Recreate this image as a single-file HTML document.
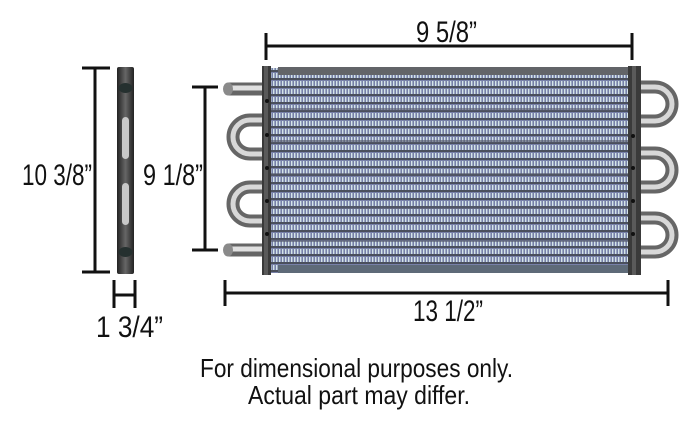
<!DOCTYPE html>
<html><head><meta charset="utf-8"><style>
html,body{margin:0;padding:0;background:#fff;}
svg{display:block}
text{font-family:"Liberation Sans",Arial,sans-serif;fill:#111}
</style></head><body>
<svg width="700" height="426" viewBox="0 0 700 426" xmlns="http://www.w3.org/2000/svg">
<defs>
<pattern id="fin" width="3" height="8" patternUnits="userSpaceOnUse">
<rect width="3" height="8" fill="#7780a8"/>
<rect x="0" y="1" width="1.4" height="5" fill="#d4e4e8"/>
<rect x="0" y="6" width="3" height="2" fill="#4a4f5c"/>
</pattern>
<linearGradient id="bar" x1="0" y1="0" x2="1" y2="0">
<stop offset="0" stop-color="#222"/><stop offset="0.5" stop-color="#666"/><stop offset="1" stop-color="#222"/>
</linearGradient>
</defs>

<line x1="266" y1="46" x2="632" y2="46" stroke="#111" stroke-width="3"/>
<line x1="266" y1="33" x2="266" y2="60" stroke="#111" stroke-width="3"/>
<line x1="632" y1="33" x2="632" y2="60" stroke="#111" stroke-width="3"/>
<text x="416" y="42" font-size="30" textLength="61" lengthAdjust="spacingAndGlyphs">9 5/8”</text>

<line x1="225" y1="293" x2="668" y2="293" stroke="#111" stroke-width="3"/>
<line x1="225" y1="280" x2="225" y2="306" stroke="#111" stroke-width="3"/>
<line x1="668" y1="280" x2="668" y2="306" stroke="#111" stroke-width="3"/>
<text x="413" y="321" font-size="30" textLength="70" lengthAdjust="spacingAndGlyphs">13 1/2”</text>

<line x1="95" y1="68" x2="95" y2="272" stroke="#111" stroke-width="3"/>
<line x1="82" y1="68" x2="110" y2="68" stroke="#111" stroke-width="3"/>
<line x1="82" y1="272" x2="110" y2="272" stroke="#111" stroke-width="3"/>
<text x="22" y="185" font-size="30" textLength="70" lengthAdjust="spacingAndGlyphs">10 3/8”</text>

<rect x="117" y="67" width="17" height="207" rx="2" fill="url(#bar)"/>
<ellipse cx="125.5" cy="88" rx="7" ry="5" fill="#25302f"/>
<ellipse cx="125.5" cy="252" rx="7" ry="5" fill="#25302f"/>
<rect x="122" y="117" width="7" height="42" rx="3.5" fill="#c8c8c8"/>
<rect x="122" y="183" width="7" height="42" rx="3.5" fill="#c8c8c8"/>

<line x1="114" y1="280" x2="114" y2="308" stroke="#111" stroke-width="3"/>
<line x1="135" y1="280" x2="135" y2="308" stroke="#111" stroke-width="3"/>
<line x1="114" y1="295" x2="135" y2="295" stroke="#111" stroke-width="3"/>
<text x="96" y="337" font-size="30" textLength="67" lengthAdjust="spacingAndGlyphs">1 3/4”</text>

<line x1="205" y1="87" x2="205" y2="250" stroke="#111" stroke-width="3"/>
<line x1="192" y1="87" x2="218" y2="87" stroke="#111" stroke-width="3"/>
<line x1="192" y1="250" x2="218" y2="250" stroke="#111" stroke-width="3"/>
<text x="143" y="185" font-size="30" textLength="60" lengthAdjust="spacingAndGlyphs">9 1/8”</text>

<rect x="270" y="68" width="360" height="205" fill="url(#fin)"/>
<g fill="#55596a" opacity="0.6">
<rect x="270" y="108" width="360" height="3"/><rect x="270" y="140" width="360" height="3"/>
<rect x="270" y="173" width="360" height="3"/><rect x="270" y="206" width="360" height="3"/>
<rect x="270" y="239" width="360" height="3"/>
</g>
<rect x="278" y="67" width="350" height="8" fill="#626468"/>
<rect x="278" y="265" width="350" height="8" fill="#5e6a78"/>

<g fill="none" stroke-linecap="butt">
<line x1="228" y1="89" x2="262" y2="89" stroke="#666" stroke-width="13"/>
<line x1="228" y1="88" x2="262" y2="88" stroke="#e0e0e0" stroke-width="5"/>
<line x1="228" y1="250" x2="262" y2="250" stroke="#666" stroke-width="13"/>
<line x1="228" y1="249" x2="262" y2="249" stroke="#e0e0e0" stroke-width="5"/>
<path d="M262 120 H250 A17 17 0 0 0 250 154 H262" stroke="#666" stroke-width="13"/>
<path d="M262 120 H250 A17 17 0 0 0 250 154 H262" stroke="#d8d8d8" stroke-width="5"/>
<path d="M262 187 H250 A17 17 0 0 0 250 221 H262" stroke="#666" stroke-width="13"/>
<path d="M262 187 H250 A17 17 0 0 0 250 221 H262" stroke="#d8d8d8" stroke-width="5"/>
<path d="M641 87 H655 A17 17 0 0 1 655 121 H641" stroke="#666" stroke-width="13"/>
<path d="M641 87 H655 A17 17 0 0 1 655 121 H641" stroke="#d8d8d8" stroke-width="5"/>
<path d="M641 153 H655 A17 17 0 0 1 655 187 H641" stroke="#666" stroke-width="13"/>
<path d="M641 153 H655 A17 17 0 0 1 655 187 H641" stroke="#d8d8d8" stroke-width="5"/>
<path d="M641 218 H655 A17 17 0 0 1 655 252 H641" stroke="#666" stroke-width="13"/>
<path d="M641 218 H655 A17 17 0 0 1 655 252 H641" stroke="#d8d8d8" stroke-width="5"/>
</g>
<ellipse cx="228" cy="89" rx="5" ry="6.5" fill="#8a8a8a"/>
<ellipse cx="228" cy="250" rx="5" ry="6.5" fill="#8a8a8a"/>

<rect x="262" y="66" width="9" height="209" fill="#3a3a3a"/>
<rect x="264" y="66" width="4" height="209" fill="#5a5a5a"/>
<rect x="628" y="66" width="13" height="209" fill="#3a3a3a"/>
<rect x="632" y="66" width="4" height="209" fill="#5a5a5a"/>
<g fill="#111">
<circle cx="267" cy="101" r="2"/><circle cx="267" cy="135" r="2"/><circle cx="267" cy="168" r="2"/><circle cx="267" cy="201" r="2"/><circle cx="267" cy="234" r="2"/>
<circle cx="633" cy="136" r="2"/><circle cx="633" cy="168" r="2"/><circle cx="633" cy="201" r="2"/><circle cx="633" cy="234" r="2"/>
</g>

<text x="200" y="377" font-size="26" textLength="313" lengthAdjust="spacingAndGlyphs">For dimensional purposes only.</text>
<text x="248" y="404" font-size="26" textLength="222" lengthAdjust="spacingAndGlyphs">Actual part may differ.</text>
</svg>
</body></html>
